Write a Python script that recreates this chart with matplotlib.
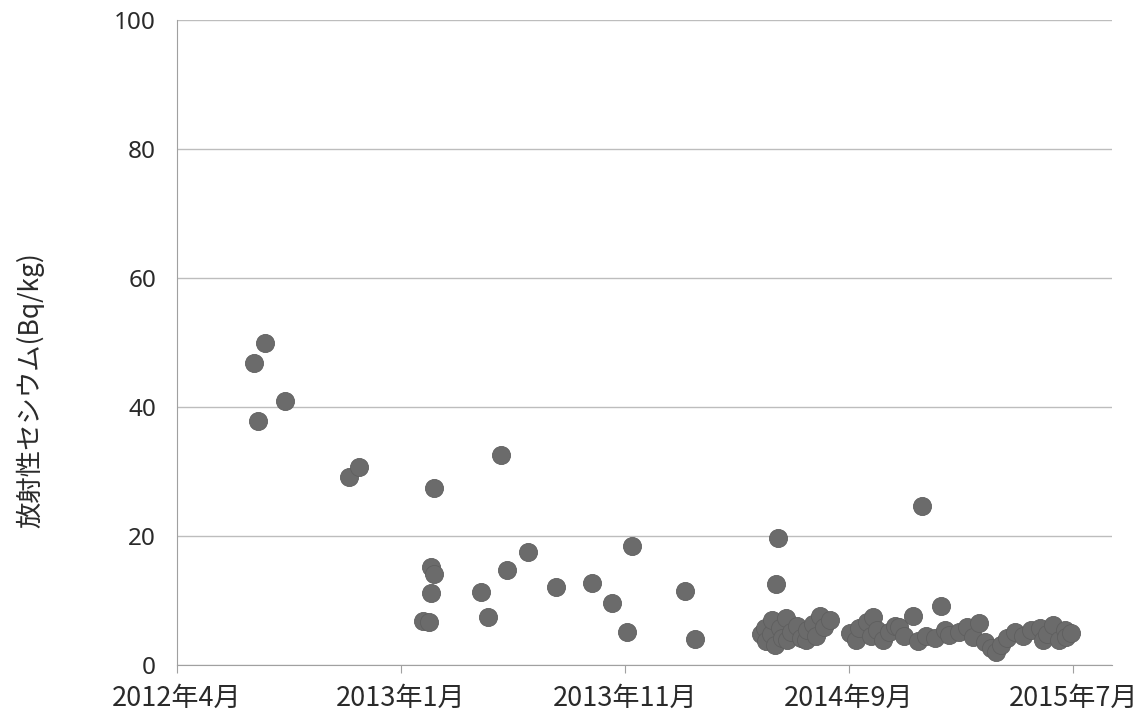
import numpy as np
import pandas as pd
import matplotlib
matplotlib.use("Agg")
import matplotlib.pyplot as plt
import matplotlib.dates as mdates

plt.rcParams['font.family'] = ['Noto Sans CJK JP', 'DejaVu Sans']

dates = [
    "2012-07-13", "2012-07-28", "2012-07-19", "2012-08-23", "2012-11-17", "2012-12-01",
    "2013-03-11", "2013-03-07", "2013-03-11", "2013-03-07", "2013-02-25", "2013-03-05",
    "2013-05-13", "2013-05-23", "2013-06-09", "2013-06-17", "2013-07-15", "2013-08-22",
    "2013-10-09", "2013-11-05", "2013-11-25", "2013-12-01", "2014-02-10", "2014-02-23",
    "2014-06-15", "2014-06-12", "2014-12-25", "2015-01-19",
    # 2014 summer cluster
    "2014-05-23", "2014-05-29", "2014-05-30", "2014-06-05", "2014-06-07", "2014-06-11",
    "2014-06-17", "2014-06-20", "2014-06-25", "2014-06-27", "2014-07-02", "2014-07-10",
    "2014-07-15", "2014-07-22", "2014-07-23", "2014-07-31", "2014-08-04", "2014-08-10",
    "2014-08-16", "2014-08-23",
    # 2014 autumn - 2015 summer cluster
    "2014-09-19", "2014-09-27", "2014-10-01", "2014-10-12", "2014-10-17", "2014-10-20",
    "2014-10-25", "2014-11-02", "2014-11-10", "2014-11-19", "2014-11-24", "2014-11-30",
    "2014-12-12", "2014-12-19", "2014-12-30", "2015-01-11", "2015-01-24", "2015-01-30",
    "2015-02-12", "2015-02-23", "2015-03-03", "2015-03-11", "2015-03-19", "2015-03-27",
    "2015-04-03", "2015-04-10", "2015-04-18", "2015-04-28", "2015-05-09", "2015-05-20",
    "2015-05-31", "2015-06-04", "2015-06-10", "2015-06-18", "2015-06-26", "2015-07-04",
    "2015-07-06", "2015-07-12",
]
cesium = [
    46.8, 49.9, 37.8, 40.9, 29.1, 30.7,
    27.4, 15.2, 14.1, 11.1, 6.8, 6.6,
    11.3, 7.4, 32.6, 14.7, 17.5, 12.1,
    12.7, 9.6, 5.1, 18.4, 11.5, 4.1,
    19.7, 12.5, 24.7, 9.1,
    4.8, 5.7, 3.7, 4.8, 7.0, 3.1,
    5.7, 4.2, 7.3, 3.9, 5.1, 6.0,
    4.2, 3.9, 5.4, 6.4, 4.5, 7.6,
    5.9, 7.0,
    5.0, 3.9, 5.7, 6.7, 4.5, 7.4,
    5.4, 3.9, 5.1, 6.0, 5.9, 4.5,
    7.6, 3.7, 4.5, 4.2, 5.4, 4.7,
    5.1, 5.9, 4.3, 6.5, 3.6, 2.6,
    2.0, 3.1, 4.2, 5.1, 4.5, 5.4,
    5.7, 3.9, 4.8, 6.2, 3.9, 5.4,
    4.3, 5.0,
]

tick_dates = ["2012-04-01", "2013-01-26", "2013-11-22", "2014-09-18", "2015-07-15"]
tick_labels = ["2012年4月", "2013年1月", "2013年11月", "2014年9月", "2015年7月"]
y_ticks = [0, 20, 40, 60, 80, 100]

x = pd.to_datetime(dates)
fig = plt.figure(figsize=(11.39, 7.21), dpi=100)
ax = fig.add_axes([0.1554, 0.0777, 0.8209, 0.8946])

ax.scatter(x, cesium, s=170, color='#6b6b6b', edgecolors='#5f5f5f',
           linewidths=0.6, zorder=3)

ax.set_xlim(pd.Timestamp("2012-04-01"), pd.Timestamp("2015-09-05"))
ax.set_ylim(0, 100)
ax.set_xticks(pd.to_datetime(tick_dates))
ax.set_xticklabels(tick_labels, fontsize=19.5, color='#2a2a2a')
ax.set_yticks(y_ticks)
ax.set_yticklabels([str(v) for v in y_ticks], fontsize=17.5, color='#2a2a2a',
                   family=['Noto Sans', 'DejaVu Sans'])

ax.grid(axis='y', color='#bdbdbd', linewidth=1.0)
ax.set_axisbelow(True)
for s in ['top', 'right']:
    ax.spines[s].set_visible(False)
ax.spines['left'].set_color('#a0a0a0')
ax.spines['bottom'].set_color('#a0a0a0')
ax.tick_params(axis='x', length=6, color='#a0a0a0', pad=8)
ax.tick_params(axis='y', length=0, pad=15)

ax.set_ylabel("放射性セシウム(Bq/kg)", fontsize=19, color='#2a2a2a')
ax.yaxis.set_label_coords(-0.157, 0.426)
ax.yaxis.label.set_va('center')
ax.yaxis.label.set_ha('center')

fig.savefig("out.png", dpi=100)
